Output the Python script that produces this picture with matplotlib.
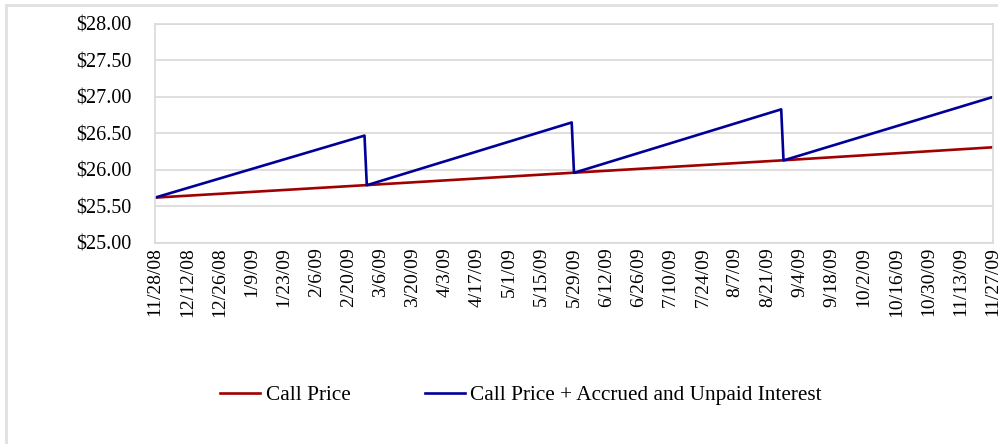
import matplotlib
matplotlib.use("Agg")
import matplotlib.pyplot as plt
from matplotlib.lines import Line2D
import pandas as pd

# values
call_dates = ["2008-11-28", "2009-02-27", "2009-05-28", "2009-08-27", "2009-11-27"]
call_values = [25.62, 25.79, 25.96, 26.13, 26.31]

accrued_dates = ["2008-11-28", "2009-02-27", "2009-02-28", "2009-05-28",
                 "2009-05-29", "2009-08-27", "2009-08-28", "2009-11-27"]
accrued_values = [25.62, 26.47, 25.79, 26.65, 25.96, 26.83, 26.13, 27.00]

tick_dates = pd.date_range("2008-11-28", "2009-11-27", freq="14D")
y_ticks = [25.0, 25.5, 26.0, 26.5, 27.0, 27.5, 28.0]

plt.rcParams["font.family"] = ["Liberation Serif", "DejaVu Serif"]

fig = plt.figure(figsize=(9.98, 4.44), dpi=100)
ax = fig.add_axes([0.1553, 0.453, 0.8397, 0.493])

grid_col = "#d9d9d9"
ax.plot(pd.to_datetime(call_dates), call_values, color="#a00000", lw=1.9,
        label="Call Price")
ax.plot(pd.to_datetime(accrued_dates), accrued_values, color="#000099", lw=1.9,
        label="Call Price + Accrued and Unpaid Interest")

ax.set_ylim(25.0, 28.0)
ax.set_yticks(y_ticks)
ax.set_yticklabels([f"${v:.2f}" for v in y_ticks], fontsize=14.5)
ax.set_xlim(tick_dates[0], tick_dates[-1])
ax.set_xticks(tick_dates)
ax.set_xticklabels([f"{d.month}/{d.day}/{d.strftime('%y')}" for d in tick_dates],
                   rotation=90, fontsize=14)
ax.tick_params(axis="x", length=0, pad=3)
ax.tick_params(axis="y", length=0, pad=17)
ax.grid(axis="y", color=grid_col, lw=1.2)
ax.set_axisbelow(True)
for s in ax.spines.values():
    s.set_color(grid_col)
    s.set_linewidth(1.2)

fig.legend(loc="center", bbox_to_anchor=(0.522, 0.11), ncol=2, frameon=False,
           fontsize=15.3, handlelength=1.9, handletextpad=0.25, columnspacing=3.5)

# outer chart frame (left and top edges visible)
fig.add_artist(Line2D([6 / 998, 6 / 998], [0, 1 - 5 / 444], transform=fig.transFigure,
                      color="#e0e0e0", lw=2))
fig.add_artist(Line2D([6 / 998, 1], [1 - 5 / 444, 1 - 5 / 444], transform=fig.transFigure,
                      color="#e0e0e0", lw=2))

fig.savefig("out.png", dpi=100)
